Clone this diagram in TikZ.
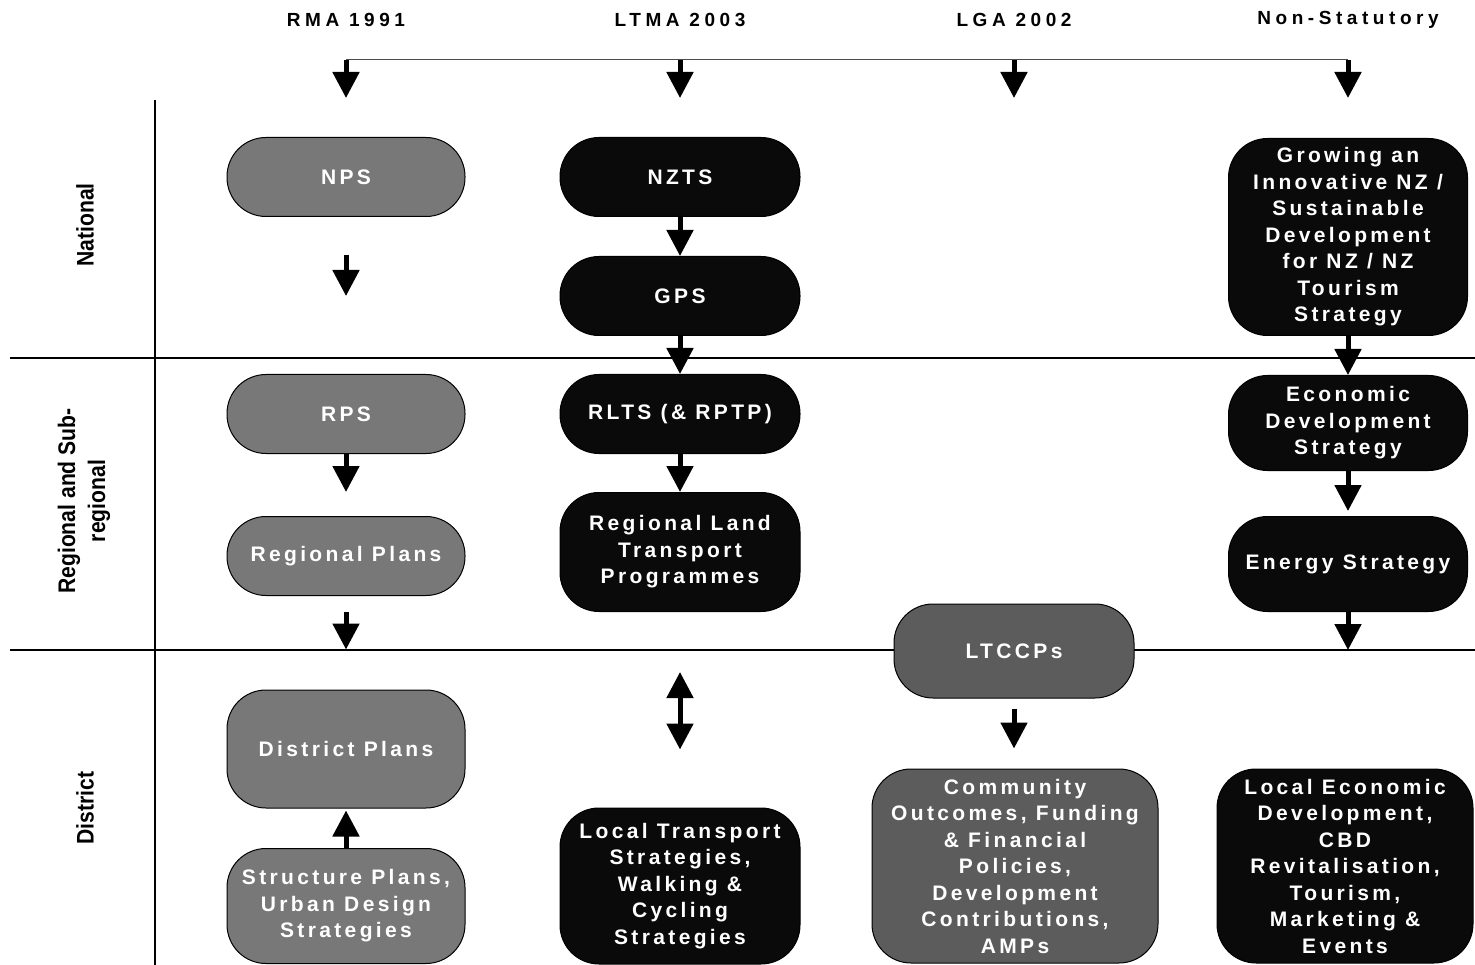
\documentclass[tikz,border=0pt]{standalone}
\usepackage{fontspec}
\setmainfont{Liberation Sans}
\newfontfamily\boxfont{Liberation Sans}[LetterSpace=16]
\newfontfamily\headfont{Liberation Sans}[LetterSpace=24]
\newfontfamily\lanefont{Liberation Sans}[FakeStretch=0.88]
\usetikzlibrary{arrows.meta}
\definecolor{rmagray}{HTML}{787878}
\definecolor{lgagray}{HTML}{5C5C5C}
\definecolor{blk}{HTML}{0A0A0A}
\begin{document}
\begin{tikzpicture}[x=1pt,y=-1pt,
  box/.style={draw=black, line width=1pt, rounded corners=39pt, inner sep=0pt, align=center, text=white,
    font=\boxfont\bfseries\fontsize{21}{26.5}\selectfont},
  rmabox/.style={box, fill=rmagray},
  lgabox/.style={box, fill=lgagray},
  blkbox/.style={box, fill=blk},
  arr/.style={line width=5pt, draw=black, -{Triangle[width=26pt,length=26pt]}},
  darr/.style={line width=5pt, draw=black, {Triangle[width=26pt,length=26pt]}-{Triangle[width=26pt,length=26pt]}},
  laneline/.style={line width=1.2pt, draw=black},
  toplink/.style={line width=1pt, draw=black!70},
  head/.style={font=\headfont\bfseries\fontsize{19}{23}\selectfont},
  lanelabel/.style={rotate=90, align=center, font=\lanefont\bfseries\fontsize{24}{30}\selectfont}
]
\useasboundingbox[fill=white] (0,0) rectangle (1475,965);

% lane lines
\coordinate (v1) at (155,100);
\coordinate (v2) at (155,965);
\coordinate (h1a) at (10,358);
\coordinate (h1b) at (1475,358);
\coordinate (h2a) at (10,650);
\coordinate (h2b) at (1475,650);
\draw[laneline] (v1) -- (v2);
\draw[laneline] (h1a) -- (h1b);
\draw[laneline] (h2a) -- (h2b);

% lane labels
\node[lanelabel] (lNat) at (85,225) {National};
\node[lanelabel] (lReg) at (84,501) {Regional and Sub-\\regional};
\node[lanelabel] (lDis) at (85,808) {District};

% headers
\node[head] (hRMA) at (346,20) {RMA 1991};
\node[head] (hLTMA) at (680,20) {LTMA 2003};
\node[head] (hLGA) at (1014,20) {LGA 2002};
\node[head] (hNS) at (1348,20) {Non-Statutory};

% top distribution line and arrows
\coordinate (t1) at (346,60);
\coordinate (t2) at (680,60);
\coordinate (t3) at (1014,60);
\coordinate (t4) at (1348,60);
\coordinate (b1) at (346,98);
\coordinate (b2) at (680,98);
\coordinate (b3) at (1014,98);
\coordinate (b4) at (1348,98);
\draw[toplink] (t1) -- (t4);
\draw[arr] (t1) -- (b1);
\draw[arr] (t2) -- (b2);
\draw[arr] (t3) -- (b3);
\draw[arr] (t4) -- (b4);

% RMA column
\node[rmabox, minimum width=238pt, minimum height=79pt] (NPS) at (346,177) {NPS};
\node[rmabox, minimum width=238pt, minimum height=79pt] (RPS) at (346,414) {RPS};
\node[rmabox, minimum width=238pt, minimum height=79pt] (RegPlans) at (346,556) {Regional Plans};
\node[rmabox, minimum width=238pt, minimum height=118pt] (DistPlans) at (346,749) {District Plans};
\node[rmabox, minimum width=238pt, minimum height=115pt] (Struct) at (346,906) {Structure Plans,\\Urban Design\\Strategies};

\draw[arr, shorten <=38pt, shorten >=78pt] (NPS.south) -- (RPS.north);
\draw[arr, shorten >=24pt] (RPS.south) -- (RegPlans.north);
\draw[arr, shorten <=16pt, shorten >=40pt] (RegPlans.south) -- (DistPlans.north);
\draw[arr, shorten >=2pt] (Struct.north) -- (DistPlans.south);

% LTMA column
\node[blkbox, minimum width=240pt, minimum height=79pt] (NZTS) at (680,177) {NZTS};
\node[blkbox, minimum width=240pt, minimum height=79pt] (GPS) at (680,296) {GPS};
\node[blkbox, minimum width=240pt, minimum height=79pt] (RLTS) at (680,414) {RLTS (\& RPTP)};
\node[blkbox, minimum width=240pt, minimum height=119pt] (RLTP) at (680,552) {Regional Land\\Transport\\Programmes};
\node[blkbox, minimum width=240pt, minimum height=156pt] (LTS) at (680,886) {Local Transport\\Strategies,\\Walking \&\\Cycling\\Strategies};

\draw[arr] (NZTS.south) -- (GPS.north);
\draw[arr] (GPS.south) -- (RLTS.north);
\draw[arr] (RLTS.south) -- (RLTP.north);
\draw[darr, shorten <=60pt, shorten >=58pt] (RLTP.south) -- (LTS.north);

% LGA column
\node[lgabox, minimum width=240pt, minimum height=94pt] (LTCCP) at (1014,651) {LTCCPs};
\node[lgabox, minimum width=286pt, minimum height=194pt] (Comm) at (1015,866) {Community\\Outcomes, Funding\\\& Financial\\Policies,\\Development\\Contributions,\\AMPs};
\draw[arr, shorten <=10pt, shorten >=20pt] (LTCCP.south) -- (LTCCP.south |- Comm.north);

% Non-statutory column
\node[blkbox, minimum width=239pt, minimum height=197pt] (Grow) at (1348,237) {Growing an\\Innovative NZ /\\Sustainable\\Development\\for NZ / NZ\\Tourism\\Strategy};
\node[blkbox, minimum width=239pt, minimum height=95pt] (Econ) at (1348,423) {Economic\\Development\\Strategy};
\node[blkbox, minimum width=239pt, minimum height=95pt] (Energy) at (1348,564) {Energy Strategy};
\node[blkbox, minimum width=256pt, minimum height=194pt] (LocEcon) at (1345,866) {Local Economic\\Development,\\CBD\\Revitalisation,\\Tourism,\\Marketing \&\\Events};
\coordinate (eEnd) at (1348,650);

\draw[arr] (Grow.south) -- (Econ.north);
\draw[arr, shorten >=5pt] (Econ.south) -- (Energy.north);
\draw[arr] (Energy.south) -- (eEnd);

\end{tikzpicture}
\end{document}
